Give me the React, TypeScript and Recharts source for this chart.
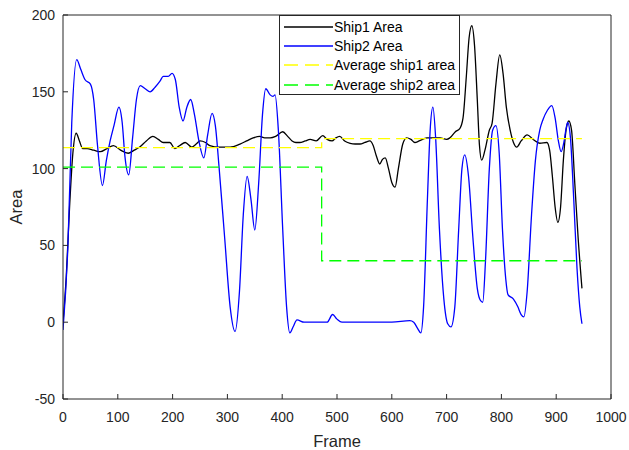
import { LineChart, Line, XAxis, YAxis, Legend, Label } from 'recharts';

const frameTicks = [0, 100, 200, 300, 400, 500, 600, 700, 800, 900, 1000];
const areaTicks = [-50, 0, 50, 100, 150, 200];

// Ship1 (black)
const ship1Frames = [
  0, 6, 12, 18, 24, 30, 36, 44, 56, 68, 80, 92, 105, 119, 130, 140, 152, 164, 174, 183,
  195, 204, 213, 223, 235, 243, 250, 260, 268, 285, 305, 323, 335, 347, 359, 368, 378, 388,
  401, 410, 418, 425, 432, 442, 451, 462, 474, 482, 491, 498, 505, 514, 524, 533, 542, 551,
  560, 566, 572, 578, 583, 588, 594, 600, 606, 612, 620, 627, 635, 642, 650, 664, 676, 688,
  700, 706, 716, 724, 730, 736, 741, 746, 751, 756, 760, 764, 770, 778, 783, 790, 797, 803,
  809, 816, 822, 828, 836, 847, 858, 870, 883, 888, 893, 898, 903, 908, 913, 918, 923, 928,
  934, 940, 947,
];
const ship1Area = [
  0, 30, 75, 110, 123, 118, 113, 113, 112, 111, 113, 115, 112, 110, 112, 114, 118, 121, 119, 117,
  117, 113, 115, 117, 114, 116, 118, 117, 115, 114, 114, 116, 118, 120, 121, 120, 120, 121,
  124, 121, 118, 117, 117, 118, 119, 118, 121.5, 119, 118, 120, 121, 118, 116.5, 116, 116, 117,
  118, 115, 108, 103, 106, 107, 100, 91, 88, 100, 116, 120, 119, 117, 118, 120, 120, 120,
  119, 120, 124, 126, 133, 160, 185, 193, 180, 145, 115, 105.5, 112, 125, 129.5, 155, 174, 162,
  140, 125, 117, 114, 118, 122, 119, 116.5, 117, 112, 95, 75, 65, 75, 105, 125, 131, 125,
  90, 55, 22,
];

// Ship2 (blue)
const ship2Frames = [
  0, 9, 16, 25, 32, 40, 50, 56, 63, 72, 79, 86, 93, 102, 108, 113, 120, 127, 134, 141,
  150, 159, 168, 177, 183, 192, 199, 205, 212, 219, 226, 233, 240, 248, 257, 264, 272, 278,
  285, 295, 305, 314, 322, 329, 336, 343, 350, 357, 364, 370, 378, 383, 387, 393, 401, 408,
  414, 420, 427, 440, 470, 482, 492, 500, 509, 550, 600, 633, 640, 647, 653, 658, 665, 670,
  675, 680, 687, 695, 702, 708, 715, 722, 728, 733, 740, 748, 756, 762, 766, 771, 778, 784,
  790, 796, 802, 808, 812, 822, 830, 836, 841, 847, 855, 862, 870, 876, 884, 892, 898, 904,
  909, 914, 918, 921, 926, 932, 938, 943, 947,
];
const ship2Area = [
  -5, 50, 130, 171, 165, 158, 155, 145, 115, 89, 105, 118, 128, 140, 130, 108, 96, 120, 145, 154,
  152, 150, 153, 157, 160, 160, 162, 158, 140, 131, 140, 145, 135, 118, 107, 122, 136, 128,
  100, 55, 10, -6, 20, 70, 95, 80, 60, 90, 135, 152, 148, 147, 148, 125, 60, 10,
  -7, -3, 1.5, 0, 0, 0, 5, 2, 0, 0, 0, 1, 0, -4, -7, 10, 80, 125,
  140, 120, 60, 15, -1, -3, 10, 60, 100, 109, 95, 55, 22, 14, 13, 40, 100, 125,
  128, 110, 60, 28, 18, 15, 10, 5, 3.5, 20, 70, 105, 125, 132, 138, 141, 133, 118,
  111, 117, 126, 130, 120, 80, 35, 10, -1,
];

// averages (stepAfter)
const avgFrames = [0, 472, 947];
const avg1Area = [113.7, 119.5, 119.5];
const avg2Area = [101, 40, 40];

const toData = (xs: number[], ys: number[]) => xs.map((f, i) => ({ frame: f, area: ys[i] }));

const series = [
  { name: 'Ship1 Area', color: '#000000', dash: undefined, data: toData(ship1Frames, ship1Area), type: 'monotone' },
  { name: 'Ship2 Area', color: '#0000ff', dash: undefined, data: toData(ship2Frames, ship2Area), type: 'monotone' },
  { name: 'Average ship1 area', color: '#ffff00', dash: '12 6', data: toData(avgFrames, avg1Area), type: 'stepAfter' },
  { name: 'Average ship2 area', color: '#00ff00', dash: '12 6', data: toData(avgFrames, avg2Area), type: 'stepAfter' },
];

const font = '"Liberation Sans", Arial, Helvetica, sans-serif';
const axisColor = '#262626';
const tickStyle = { fill: axisColor, fontSize: 14, fontFamily: font };

function LegendBox() {
  return (
    <div
      style={{
        width: 181,
        height: 80,
        boxSizing: 'border-box',
        border: `1px solid ${axisColor}`,
        background: '#fff',
        fontFamily: font,
        fontSize: 14,
        color: '#000',
        paddingTop: 1,
      }}
    >
      {series.map((s) => (
        <div key={s.name} style={{ display: 'flex', alignItems: 'center', height: 19.4 }}>
          <svg width={53} height={10} style={{ flex: 'none' }}>
            <line x1={4} y1={5} x2={53} y2={5} stroke={s.color} strokeWidth={1.3} strokeDasharray={s.dash ? '14 7' : undefined} />
          </svg>
          <span style={{ whiteSpace: 'nowrap', marginLeft: 1 }}>{s.name}</span>
        </div>
      ))}
    </div>
  );
}

export default function App() {
  return (
    <div style={{ position: 'absolute', left: 0, top: 0, width: 629, height: 450, background: '#fff' }}>
      <LineChart width={629} height={450} margin={{ top: 14, right: 17, bottom: 0, left: 0 }}>
        <XAxis
          xAxisId="bottom"
          dataKey="frame"
          type="number"
          domain={[0, 1000]}
          ticks={frameTicks}
          height={51}
          allowDataOverflow
          stroke={axisColor}
          tickSize={-5}
          tickMargin={18}
          tick={tickStyle}
          interval={0}
        >
          <Label
            content={() => (
              <text x={337} y={447} textAnchor="middle" fill={axisColor} fontSize={16.5} fontFamily={font}>
                Frame
              </text>
            )}
          />
        </XAxis>
        <XAxis
          xAxisId="top"
          orientation="top"
          dataKey="frame"
          type="number"
          domain={[0, 1000]}
          ticks={frameTicks}
          height={1}
          allowDataOverflow
          stroke={axisColor}
          tickSize={-5}
          tick={false}
          interval={0}
        />
        <YAxis
          yAxisId="left"
          type="number"
          domain={[-50, 200]}
          ticks={areaTicks}
          width={63}
          allowDataOverflow
          stroke={axisColor}
          tickSize={-5}
          tickMargin={13}
          tick={tickStyle}
          interval={0}
        >
          <Label
            content={() => (
              <text
                x={21.5}
                y={207}
                transform="rotate(-90 21.5 207)"
                textAnchor="middle"
                fill={axisColor}
                fontSize={16.5}
                fontFamily={font}
              >
                Area
              </text>
            )}
          />
        </YAxis>
        <YAxis
          yAxisId="right"
          orientation="right"
          type="number"
          domain={[-50, 200]}
          ticks={areaTicks}
          width={1}
          allowDataOverflow
          stroke={axisColor}
          tickSize={-5}
          tick={false}
          interval={0}
        />
        {/* invisible series so the box axes (top/right) get drawn */}
        <Line
          xAxisId="top"
          yAxisId="right"
          data={series[2].data}
          dataKey="area"
          stroke="none"
          dot={false}
          activeDot={false}
          legendType="none"
          isAnimationActive={false}
        />
        {series.map((s) => (
          <Line
            key={s.name}
            xAxisId="bottom"
            yAxisId="left"
            data={s.data}
            dataKey="area"
            name={s.name}
            type={s.type as 'monotone' | 'stepAfter'}
            stroke={s.color}
            strokeWidth={1.3}
            strokeDasharray={s.dash}
            dot={false}
            activeDot={false}
            isAnimationActive={false}
          />
        ))}
        <Legend
          layout="vertical"
          align="center"
          verticalAlign="middle"
          content={() => <LegendBox />}
          wrapperStyle={{ left: 279, top: 15, width: 181, height: 80 }}
        />
      </LineChart>
    </div>
  );
}
